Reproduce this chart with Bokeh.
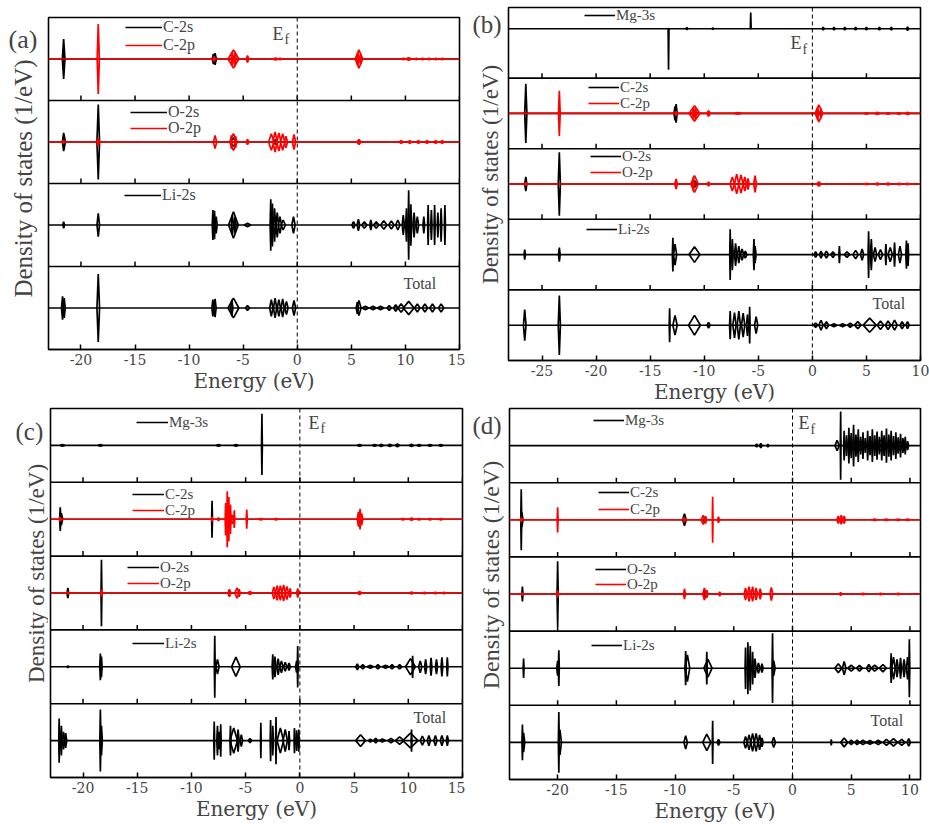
from bokeh.plotting import figure
from bokeh.models import Range1d, FixedTicker, Span, Label, Legend, LegendItem
from bokeh.layouts import column, row
from bokeh.embed import file_html
from bokeh.resources import INLINE

FONT = "Liberation Serif"
AXIS_FONT = "DejaVu Serif"
BLACK = "#000000"
RED = "#ff0000"
YLABEL = "Density of states (1/eV)"
XLABEL = "Energy (eV)"

# ---------------- energy windows and ticks (eV) ----------------
a_xrange = (-23.0, 15.0)
a_ticks = [-20, -15, -10, -5, 0, 5, 10, 15]
b_xrange = (-28.1, 10.0)
b_ticks = [-25, -20, -15, -10, -5, 0, 5, 10]
c_xrange = (-23.0, 15.0)
c_ticks = [-20, -15, -10, -5, 0, 5, 10, 15]
d_xrange = (-24.1, 10.9)
d_ticks = [-20, -15, -10, -5, 0, 5, 10]

# ---------------- spin-resolved PDOS peaks ----------------
# each peak: (energy eV, spin-up, spin-down, half-width eV); heights in row-height units

# (a)
a_c2s = [(-21.6, .24, .24, .12), (-21.6, .12, .12, .08), (-7.75, .06, .06, .12), (-7.6, .07, .07, .12),
         (-5.9, .02, .02, .3), (5.7, .02, .02, .2)]
a_c2p = [(-18.4, .42, .42, .1), (-7.7, .03, .03, .1), (-5.9, .11, .11, .5), (-6.0, .08, .08, .1),
         (-5.75, .09, .09, .08), (-4.6, .04, .04, .12), (-2.0, .01, .01, .3), (-1.6, .01, .01, .2),
         (5.7, .11, .11, .35), (5.6, .08, .08, .1), (5.85, .06, .06, .1), (9.8, .01, .01, .2),
         (10.3, .015, .015, .3), (11.0, .01, .01, .15), (11.6, .01, .01, .15), (12.2, .01, .01, .15),
         (12.8, .01, .01, .15), (13.4, .01, .01, .15)]
a_o2s = [(-21.6, .11, .11, .12), (-21.55, .09, .09, .08), (-18.4, .45, .45, .12), (-5.9, .05, .05, .3),
         (-2.0, .03, .03, .2)]
a_o2p = [(-21.6, .02, .02, .1), (-18.4, .05, .05, .1), (-7.6, .08, .08, .15), (-5.9, .1, .1, .35),
         (-6.1, .08, .08, .08), (-5.7, .07, .07, .08), (-4.6, .03, .03, .12), (-2.4, .1, .1, .25),
         (-2.05, .12, .12, .2), (-1.7, .11, .11, .2), (-1.35, .1, .1, .2), (-1.05, .07, .07, .15),
         (-0.3, .09, .09, .15), (5.7, .03, .03, .2), (9.6, .015, .015, .2), (10.4, .015, .015, .2),
         (11.2, .015, .015, .2), (12.0, .015, .015, .2), (12.8, .015, .015, .2), (13.4, .015, .015, .2)]
a_li2s = [(-21.6, .04, .04, .08), (-18.4, .14, .14, .12), (-7.8, .18, .18, .06), (-7.65, .17, .17, .06),
          (-7.5, .1, .1, .1), (-5.9, .16, .16, .45), (-6.0, .12, .12, .1), (-5.75, .1, .1, .1),
          (-4.6, .02, .02, .3), (-2.45, .31, .31, .06), (-2.3, .26, .26, .08), (-2.1, .2, .2, .1),
          (-1.85, .15, .15, .12), (-1.6, .1, .1, .15), (-1.3, .06, .06, .2), (-0.35, .1, .1, .15),
          (5.2, .04, .04, .15), (5.65, .07, .07, .12), (6.2, .04, .04, .25), (6.8, .06, .06, .1),
          (7.3, .04, .04, .25), (8.0, .05, .05, .3), (8.7, .05, .05, .25), (9.3, .06, .06, .2),
          (9.8, .12, .12, .1), (10.1, .2, .2, .08), (10.3, .42, .42, .05), (10.5, .25, .25, .08),
          (10.8, .15, .15, .1), (11.1, .1, .1, .12), (11.7, .1, .1, .08), (12.1, .24, .24, .05),
          (12.4, .18, .18, .06), (12.7, .24, .24, .05), (13.0, .15, .15, .06), (13.3, .2, .2, .06),
          (13.65, .24, .24, .05)]
a_tot = [(-21.7, .14, .14, .1), (-21.55, .12, .12, .1), (-18.4, .41, .41, .12), (-7.8, .1, .1, .1),
         (-7.6, .11, .11, .1), (-5.9, .12, .12, .5), (-6.05, .1, .1, .1), (-4.6, .03, .03, .2),
         (-2.4, .1, .1, .15), (-2.05, .12, .12, .15), (-1.7, .1, .1, .15), (-1.35, .11, .11, .15),
         (-1.0, .08, .08, .15), (-0.3, .09, .09, .15), (5.7, .09, .09, .2), (5.55, .07, .07, .1),
         (6.3, .02, .02, .3), (7.0, .02, .02, .3), (7.7, .02, .02, .3), (8.5, .03, .03, .2),
         (9.1, .04, .04, .2), (9.6, .05, .05, .3), (10.3, .08, .08, .5), (11.1, .05, .05, .25),
         (11.8, .05, .05, .25), (12.5, .05, .05, .25), (13.3, .05, .05, .25)]

# (b)
b_mg3s = [(-13.3, 0.0, .58, .04), (-5.7, .23, 0.0, .04), (-11.6, .015, .015, .1), (-9.2, .01, .01, .1),
          (1.0, .02, .02, .1), (2.0, .02, .02, .1), (3.0, .02, .02, .1), (4.0, .02, .02, .1),
          (5.0, .02, .02, .1), (6.2, .02, .02, .1), (7.3, .02, .02, .1), (8.8, .025, .025, .1)]
b_c2s = [(-26.5, .42, .42, .1), (-23.4, .03, .03, .1), (-12.6, .13, .13, .1), (-12.7, .1, .1, .1),
         (-10.9, .03, .03, .3), (0.6, .02, .02, .2)]
b_c2p = [(-23.4, .32, .32, .08), (-12.6, .03, .03, .1), (-10.9, .11, .11, .5), (-11.0, .08, .08, .08),
         (-10.8, .08, .08, .08), (-9.6, .04, .04, .15), (-6.9, .01, .01, .3), (0.6, .12, .12, .35),
         (0.5, .09, .09, .08), (0.8, .07, .07, .08), (5.0, .01, .01, .2), (6.0, .015, .015, .2),
         (7.0, .01, .01, .2), (8.0, .01, .01, .2), (8.8, .015, .015, .2)]
b_o2s = [(-26.5, .1, .1, .1), (-23.4, .45, .45, .1), (-10.9, .05, .05, .2)]
b_o2p = [(-26.5, .02, .02, .1), (-12.6, .07, .07, .12), (-10.9, .12, .12, .35), (-11.0, .1, .1, .08),
         (-9.6, .03, .03, .12), (-7.4, .1, .1, .2), (-7.0, .14, .14, .2), (-6.6, .13, .13, .2),
         (-6.25, .1, .1, .15), (-5.95, .08, .08, .1), (-5.3, .12, .12, .12), (0.6, .03, .03, .2),
         (5.0, .01, .01, .2), (6.0, .015, .015, .2), (7.0, .015, .015, .2), (8.0, .01, .01, .2),
         (8.8, .01, .01, .2)]
b_li2s = [(-26.6, .07, .07, .06), (-23.4, .1, .1, .08), (-12.9, .24, .24, .05), (-12.7, .15, .15, .15),
          (-10.9, .11, .11, .5), (-7.6, .36, .36, .04), (-7.4, .22, .22, .08), (-7.1, .16, .16, .1),
          (-6.8, .12, .12, .12), (-6.5, .08, .08, .15), (-6.2, .05, .05, .15), (-5.4, .22, .22, .06),
          (-5.3, .12, .12, .1), (0.3, .04, .04, .15), (0.8, .05, .05, .15), (1.3, .05, .05, .2),
          (1.9, .04, .04, .2), (2.5, .12, .12, .05), (3.2, .04, .04, .25), (4.0, .06, .06, .25),
          (4.6, .08, .08, .15), (5.2, .33, .33, .05), (5.45, .22, .22, .08), (5.8, .1, .1, .15),
          (6.3, .07, .07, .2), (6.8, .15, .15, .06), (7.2, .1, .1, .2), (7.6, .17, .17, .06),
          (8.1, .12, .12, .15), (8.7, .2, .2, .06), (8.85, .16, .16, .05)]
b_tot = [(-26.6, .22, .22, .12), (-23.4, .42, .42, .1), (-13.2, .24, .24, .04), (-12.7, .14, .14, .2),
         (-10.9, .14, .14, .55), (-9.6, .04, .04, .15), (-7.6, .2, .2, .06), (-7.2, .18, .18, .15),
         (-6.8, .2, .2, .15), (-6.4, .17, .17, .15), (-6.0, .15, .15, .1), (-5.8, .26, .26, .04),
         (-5.2, .12, .12, .15), (0.3, .03, .03, .2), (0.8, .07, .07, .2), (1.3, .05, .05, .2),
         (2.0, .02, .02, .3), (2.8, .02, .02, .3), (3.5, .03, .03, .25), (4.2, .05, .05, .3),
         (5.3, .1, .1, .6), (6.3, .06, .06, .3), (7.0, .06, .06, .25), (7.6, .07, .07, .25),
         (8.3, .05, .05, .2), (8.8, .05, .05, .15)]

# (c)
c_mg3s = [(-3.5, .43, .4, .04), (-21.9, .01, .01, .2), (-18.4, .01, .01, .2), (-7.5, .01, .01, .2),
          (-5.9, .01, .01, .2), (5.5, .01, .01, .2), (6.9, .01, .01, .2), (7.5, .015, .015, .2),
          (8.3, .015, .015, .2), (9.0, .02, .02, .2), (10.3, .015, .015, .2), (11.0, .01, .01, .2),
          (12.0, .01, .01, .2), (13.0, .01, .01, .2)]
c_c2s = [(-22.1, .16, .16, .06), (-22.0, .08, .08, .12), (-8.1, .25, .25, .04), (-6.6, .02, .02, .1)]
c_c2p = [(-22.1, .03, .03, .08), (-8.1, .03, .03, .06), (-7.5, .02, .02, .1), (-6.85, .22, .22, .04),
         (-6.7, .38, .38, .04), (-6.55, .3, .3, .04), (-6.4, .2, .2, .05), (-6.25, .06, .06, .15),
         (-6.05, .12, .12, .05), (-4.9, .13, .13, .05), (-3.6, .01, .01, .2), (-2.2, .01, .01, .2),
         (5.4, .1, .1, .1), (5.55, .14, .14, .06), (5.7, .08, .08, .1), (9.5, .01, .01, .2),
         (10.3, .015, .015, .2), (11.0, .01, .01, .2), (12.0, .01, .01, .2), (13.0, .01, .01, .2)]
c_o2s = [(-21.4, .07, .07, .08), (-18.3, .45, .45, .04), (-2.0, .02, .02, .1)]
c_o2p = [(-21.4, .02, .02, .06), (-18.3, .05, .05, .05), (-6.5, .05, .05, .15), (-5.8, .07, .07, .2),
         (-5.6, .05, .05, .1), (-4.6, .02, .02, .2), (-2.4, .08, .08, .15), (-2.1, .1, .1, .15),
         (-1.8, .1, .1, .15), (-1.5, .11, .11, .15), (-1.2, .09, .09, .15), (-0.9, .06, .06, .1),
         (-0.2, .06, .06, .1), (5.5, .02, .02, .2), (10.3, .015, .015, .2), (11.5, .01, .01, .2),
         (12.5, .01, .01, .2), (13.3, .01, .01, .2)]
c_li2s = [(-21.4, .01, .01, .1), (-18.4, .18, .18, .06), (-18.3, .14, .14, .06), (-7.85, .42, .42, .04),
          (-7.6, .1, .1, .15), (-5.9, .13, .13, .4), (-2.5, .17, .17, .06), (-2.3, .14, .14, .1),
          (-2.0, .11, .11, .12), (-1.7, .08, .08, .15), (-1.35, .06, .06, .15), (-1.0, .05, .05, .12),
          (-0.2, .28, .28, .04), (-0.3, .08, .08, .1), (5.3, .04, .04, .15), (5.8, .03, .03, .2),
          (6.5, .02, .02, .3), (7.2, .03, .03, .2), (7.9, .02, .02, .3), (8.5, .03, .03, .2),
          (9.2, .03, .03, .2), (10.2, .11, .11, .45), (10.4, .15, .15, .05), (11.1, .08, .08, .15),
          (11.6, .1, .1, .1), (12.1, .12, .12, .08), (12.6, .1, .1, .1), (13.1, .13, .13, .08),
          (13.6, .13, .13, .06)]
c_tot = [(-22.2, .3, .3, .04), (-22.0, .2, .2, .08), (-21.8, .12, .12, .1), (-21.6, .1, .1, .1),
         (-18.4, .42, .42, .05), (-18.3, .2, .2, .08), (-7.9, .26, .26, .04), (-7.6, .2, .2, .06),
         (-7.45, .12, .12, .1), (-7.3, .22, .22, .04), (-6.4, .2, .2, .05), (-6.1, .17, .17, .35),
         (-5.7, .15, .15, .1), (-5.4, .08, .08, .12), (-4.6, .03, .03, .15), (-3.6, .24, .24, .03),
         (-2.7, .28, .28, .04), (-2.5, .2, .2, .06), (-2.2, .32, .32, .04), (-1.8, .17, .17, .3),
         (-1.35, .15, .15, .2), (-1.0, .13, .13, .06), (-0.5, .17, .17, .04), (-0.3, .14, .14, .08),
         (-0.1, .15, .15, .04), (5.6, .08, .08, .45), (6.5, .02, .02, .2), (7.0, .03, .03, .2),
         (7.6, .02, .02, .3), (8.4, .03, .03, .3), (9.2, .05, .05, .4), (10.2, .1, .1, .7),
         (10.3, .15, .15, .04), (11.3, .06, .06, .2), (11.9, .07, .07, .15), (12.5, .07, .07, .15),
         (13.1, .07, .07, .15), (13.6, .07, .07, .1)]

# (d)
d_mg3s = [(-3.05, .02, .02, .1), (-2.7, .03, .03, .12), (-2.1, .02, .02, .08), (3.8, .07, .07, .18),
          (4.1, .46, .46, .03), (4.4, .2, .2, .05), (4.6, .14, .14, .06), (4.8, .24, .24, .05),
          (5.0, .17, .17, .06), (5.2, .28, .28, .05), (5.4, .15, .15, .06), (5.6, .22, .22, .05),
          (5.8, .12, .12, .06), (6.0, .18, .18, .05), (6.2, .1, .1, .06), (6.4, .2, .2, .05),
          (6.6, .13, .13, .06), (6.8, .22, .22, .05), (7.0, .14, .14, .06), (7.2, .19, .19, .05),
          (7.4, .12, .12, .06), (7.6, .2, .2, .05), (7.8, .14, .14, .06), (8.0, .23, .23, .05),
          (8.2, .15, .15, .06), (8.4, .2, .2, .05), (8.6, .13, .13, .06), (8.8, .18, .18, .05),
          (9.0, .11, .11, .06), (9.2, .16, .16, .05), (9.4, .1, .1, .06), (9.6, .12, .12, .06),
          (9.8, .06, .06, .1), (5.5, .07, .07, 1.0), (7.5, .07, .07, 1.0), (9.0, .06, .06, .8)]
d_c2s = [(-23.1, .41, .41, .04), (-23.05, .1, .1, .1), (-9.2, .08, .08, .15), (-7.5, .03, .03, .1),
         (4.2, .02, .02, .2)]
d_c2p = [(-23.1, .03, .03, .06), (-20.0, .17, .17, .04), (-9.2, .03, .03, .08), (-7.6, .06, .06, .2),
         (-7.4, .05, .05, .08), (-6.8, .31, .31, .03), (-6.3, .04, .04, .08), (3.9, .05, .05, .12),
         (4.15, .06, .06, .12), (4.4, .05, .05, .1), (7.0, .01, .01, .2), (8.0, .01, .01, .2),
         (9.0, .01, .01, .2), (9.8, .01, .01, .2)]
d_o2s = [(-23.0, .1, .1, .05), (-20.0, .44, .44, .05), (-7.5, .05, .05, .1)]
d_o2p = [(-23.0, .02, .02, .05), (-20.0, .05, .05, .05), (-9.2, .07, .07, .08), (-7.5, .08, .08, .15),
         (-7.3, .05, .05, .1), (-6.2, .03, .03, .08), (-4.0, .08, .08, .12), (-3.7, .1, .1, .12),
         (-3.4, .1, .1, .12), (-3.1, .08, .08, .12), (-2.75, .07, .07, .1), (-1.8, .09, .09, .12),
         (4.1, .02, .02, .1), (6.0, .01, .01, .2), (7.5, .01, .01, .2), (9.0, .01, .01, .2)]
d_li2s = [(-22.9, .13, .13, .04), (-19.9, .24, .24, .04), (-20.0, .1, .1, .08), (-9.1, .23, .23, .05),
          (-8.95, .18, .18, .2), (-7.3, .22, .22, .04), (-7.2, .12, .12, .35), (-4.0, .28, .28, .04),
          (-3.8, .35, .35, .04), (-3.6, .3, .3, .05), (-3.4, .22, .22, .06), (-3.2, .13, .13, .1),
          (-2.9, .07, .07, .12), (-2.6, .06, .06, .1), (-1.7, .47, .47, .04), (-1.6, .1, .1, .12),
          (3.9, .06, .06, .3), (4.4, .09, .09, .15), (5.0, .04, .04, .3), (5.7, .04, .04, .25),
          (6.5, .05, .05, .2), (7.0, .04, .04, .3), (7.7, .05, .05, .3), (8.4, .2, .2, .05),
          (8.6, .15, .15, .15), (8.9, .12, .12, .1), (9.2, .14, .14, .08), (9.5, .12, .12, .1),
          (9.8, .15, .15, .1), (9.95, .39, .39, .04)]
d_tot = [(-23.0, .24, .24, .04), (-22.9, .13, .13, .1), (-19.9, .41, .41, .04), (-19.8, .17, .17, .12),
         (-9.1, .09, .09, .15), (-7.3, .11, .11, .35), (-6.8, .29, .29, .03), (-6.3, .04, .04, .12),
         (-4.0, .08, .08, .15), (-3.7, .1, .1, .15), (-3.4, .12, .12, .15), (-3.1, .12, .12, .15),
         (-2.8, .1, .1, .12), (-2.6, .06, .06, .1), (-1.6, .07, .07, .15), (3.3, .04, .04, .04),
         (4.4, .06, .06, .3), (5.0, .03, .03, .2), (5.5, .03, .03, .2), (6.0, .03, .03, .3),
         (6.6, .025, .025, .3), (7.3, .03, .03, .3), (8.0, .04, .04, .3), (8.6, .05, .05, .35),
         (9.3, .04, .04, .3), (9.9, .05, .05, .15)]


def peak_outlines(peaks, base):
    """Spin-up above / spin-down below the zero line of a row, one outline per peak."""
    xs, ys = [], []
    for e, up, dn, w in peaks:
        xs.append([e - w, e, e + w, e])
        ys.append([base, base + up, base, base - dn])
    return xs, ys


def side_strip(tag, g, tag_pos, ylab):
    """Left margin of a panel: panel letter and the shared y-axis title."""
    sw = g["l"] - 2
    s = figure(width=sw, height=g["h"], x_range=Range1d(0, sw), y_range=Range1d(g["h"], 0),
               output_backend="svg", toolbar_location=None,
               x_axis_location=None, y_axis_location=None,
               min_border_left=0, min_border_right=0, min_border_top=0, min_border_bottom=0)
    s.outline_line_color = None
    s.xgrid.visible = False
    s.ygrid.visible = False
    tx, ty, tsize = tag_pos
    s.add_layout(Label(x=tx - g["x"], y=ty - g["y"], text=tag, text_font=FONT,
                       text_font_size=tsize, text_baseline="middle", text_align="left"))
    yx, yy, ysize = ylab
    s.add_layout(Label(x=yx - g["x"], y=yy - g["y"], text=YLABEL, angle=1.5707963267948966,
                       text_font=FONT, text_font_size=ysize, text_baseline="middle",
                       text_align="center"))
    return s


def make_panel(tag, xr, ticks, rows, g, ef, tag_pos, ylab, glyph_w, leg_font):
    n = len(rows)
    fw = g["w"] - g["l"] - g["r"]
    fh = g["h"] - g["t"] - g["b"]
    fx0 = g["x"] + g["l"]
    fy0 = g["y"] + g["t"]
    row_px = fh / n

    def dx(px):
        return xr[0] + (px - fx0) / fw * (xr[1] - xr[0])

    def dy(py):
        return -(py - fy0) / fh * n

    p = figure(width=g["w"] - (g["l"] - 2), height=g["h"], x_range=Range1d(*xr),
               y_range=Range1d(-n, 0), output_backend="svg", toolbar_location=None,
               y_axis_location=None,
               min_border_left=2, min_border_right=g["r"],
               min_border_top=g["t"], min_border_bottom=g["b"])
    p.background_fill_color = "white"
    p.border_fill_color = "white"
    p.xgrid.visible = False
    p.ygrid.visible = False
    p.outline_line_color = BLACK
    p.outline_line_width = 1.6
    p.outline_line_alpha = 1.0

    ax = p.below[0]
    ax.ticker = FixedTicker(ticks=ticks)
    ax.major_label_overrides = {t: str(t) for t in ticks}
    ax.axis_label = XLABEL
    ax.axis_label_text_font = AXIS_FONT
    ax.axis_label_text_font_size = "20px"
    ax.axis_label_text_font_style = "normal"
    ax.axis_label_standoff = 1
    ax.major_label_text_font = AXIS_FONT
    ax.major_label_text_font_size = "14px"
    ax.major_label_text_font_style = "normal"
    ax.major_label_standoff = 4
    ax.major_tick_in = 5
    ax.major_tick_out = 0
    ax.minor_tick_in = 0
    ax.minor_tick_out = 0
    ax.major_tick_line_width = 1.5
    ax.axis_line_width = 1.6

    # row separators with inward ticks
    tick_h = 5.0 / row_px
    for r in range(1, n):
        p.add_layout(Span(location=-r, dimension="width", line_color=BLACK, line_width=1.6))
        p.segment(x0=ticks, y0=[-r] * len(ticks), x1=ticks, y1=[-r + tick_h] * len(ticks),
                  line_color=BLACK, line_width=1.5)

    for r, rw in enumerate(rows):
        base = -(r + 1) + rw["base"]
        for k, (name, peaks, color) in enumerate(rw["series"]):
            zero = p.line(x=[xr[0], xr[1]], y=[base, base], line_color=color, line_width=1.6)
            xs, ys = peak_outlines(peaks, base)
            p.patches(xs=xs, ys=ys, fill_alpha=0, line_color=color, line_width=1.7)
            if name == "Total":
                lx, ly = rw["legend"]
                p.add_layout(Label(x=dx(lx), y=dy(ly), text="Total", text_font=FONT,
                                   text_font_size="16px", text_baseline="middle", text_align="left"))
                continue
            lx, ly, pitch = rw["legend"]
            cy = ly + k * pitch
            leg = Legend(items=[LegendItem(label=name, renderers=[zero])],
                         location=(lx - fx0, (fy0 + fh) - (cy + 10)),
                         orientation="vertical", glyph_width=glyph_w, glyph_height=20,
                         label_height=20, label_standoff=1, padding=0, margin=0, spacing=0,
                         border_line_alpha=0, background_fill_alpha=0,
                         label_text_font=FONT, label_text_font_size=leg_font,
                         label_text_baseline="middle")
            p.add_layout(leg, "center")

    # Fermi level
    p.add_layout(Span(location=0, dimension="height", line_color=BLACK, line_width=1.0,
                      line_dash="4 3"))
    ex, ey = ef
    p.add_layout(Label(x=dx(ex), y=dy(ey), text="E", text_font=FONT, text_font_size="18px",
                       text_baseline="middle", text_align="left"))
    p.add_layout(Label(x=dx(ex + 12), y=dy(ey + 6), text="f", text_font=FONT, text_font_size="14px",
                       text_baseline="middle", text_align="left"))

    return row(side_strip(tag, g, tag_pos, ylab), p)


pa = make_panel(
    "(a)", a_xrange, a_ticks,
    [
        {"base": 0.5, "series": [("C-2s", a_c2s, BLACK), ("C-2p", a_c2p, RED)], "legend": (125, 27, 18)},
        {"base": 0.5, "series": [("O-2s", a_o2s, BLACK), ("O-2p", a_o2p, RED)], "legend": (130, 112, 16)},
        {"base": 0.5, "series": [("Li-2s", a_li2s, BLACK)], "legend": (124, 195, 16)},
        {"base": 0.5, "series": [("Total", a_tot, BLACK)], "legend": (403, 283)},
    ],
    {"x": 0, "y": 0, "w": 465, "h": 400, "l": 48, "r": 6, "t": 17, "b": 51},
    ef=(272, 33), tag_pos=(8, 26, "26px"), ylab=(23, 194, "25px"), glyph_w=37, leg_font="16px")

pb = make_panel(
    "(b)", b_xrange, b_ticks,
    [
        {"base": 0.7, "series": [("Mg-3s", b_mg3s, BLACK)], "legend": (584, 18, 16)},
        {"base": 0.5, "series": [("C-2s", b_c2s, BLACK), ("C-2p", b_c2p, RED)], "legend": (588, 90, 16)},
        {"base": 0.5, "series": [("O-2s", b_o2s, BLACK), ("O-2p", b_o2p, RED)], "legend": (590, 159, 16)},
        {"base": 0.5, "series": [("Li-2s", b_li2s, BLACK)], "legend": (586, 232, 16)},
        {"base": 0.5, "series": [("Total", b_tot, BLACK)], "legend": (872, 306)},
    ],
    {"x": 465, "y": 0, "w": 464, "h": 406, "l": 43, "r": 9, "t": 7, "b": 43},
    ef=(790, 43), tag_pos=(472, 20, "25px"), ylab=(490, 192, "23px"), glyph_w=31, leg_font="15px")

pc = make_panel(
    "(c)", c_xrange, c_ticks,
    [
        {"base": 0.5, "series": [("Mg-3s", c_mg3s, BLACK)], "legend": (136, 422, 16)},
        {"base": 0.5, "series": [("C-2s", c_c2s, BLACK), ("C-2p", c_c2p, RED)], "legend": (132, 494, 16)},
        {"base": 0.5, "series": [("O-2s", c_o2s, BLACK), ("O-2p", c_o2p, RED)], "legend": (127, 567, 16)},
        {"base": 0.5, "series": [("Li-2s", c_li2s, BLACK)], "legend": (132, 643, 16)},
        {"base": 0.5, "series": [("Total", c_tot, BLACK)], "legend": (413, 717)},
    ],
    {"x": 0, "y": 400, "w": 465, "h": 425, "l": 50, "r": 3, "t": 8, "b": 48},
    ef=(308, 422), tag_pos=(15, 427, "25px"), ylab=(36, 590, "23px"), glyph_w=32, leg_font="15px")

pd_ = make_panel(
    "(d)", d_xrange, d_ticks,
    [
        {"base": 0.5, "series": [("Mg-3s", d_mg3s, BLACK)], "legend": (593, 423, 16)},
        {"base": 0.5, "series": [("C-2s", d_c2s, BLACK), ("C-2p", d_c2p, RED)], "legend": (598, 495, 17)},
        {"base": 0.5, "series": [("O-2s", d_o2s, BLACK), ("O-2p", d_o2p, RED)], "legend": (595, 572, 15)},
        {"base": 0.5, "series": [("Li-2s", d_li2s, BLACK)], "legend": (591, 648, 16)},
        {"base": 0.5, "series": [("Total", d_tot, BLACK)], "legend": (870, 723)},
    ],
    {"x": 465, "y": 406, "w": 464, "h": 419, "l": 44, "r": 9, "t": 2, "b": 43},
    ef=(798, 423), tag_pos=(472, 425, "25px"), ylab=(490, 594, "24px"), glyph_w=31, leg_font="15px")

layout = row(column(pa, pc), column(pb, pd_))

open("out.html", "w").write(file_html(layout, INLINE))
